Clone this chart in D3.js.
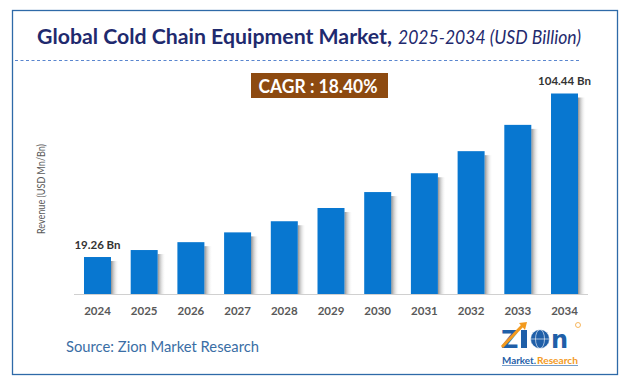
<!DOCTYPE html>
<html>
<head>
<meta charset="utf-8">
<script src="https://cdn.jsdelivr.net/npm/d3@7/dist/d3.min.js"></script>
<style>
  html, body { margin: 0; padding: 0; background: #fff; }
  svg { display: block; }
</style>
</head>
<body>
<svg id="chart" width="632" height="389"></svg>
<script>
const years = ["2024","2025","2026","2027","2028","2029","2030","2031","2032","2033","2034"];
const revenue = [19.26, 22.9, 27.0, 32.1, 37.9, 44.8, 53.1, 62.9, 74.4, 88.1, 104.44];
const valueLabels = ["19.26 Bn", "", "", "", "", "", "", "", "", "", "104.44 Bn"];
const titleMain = "Global Cold Chain Equipment Market,";
const titleSub = "2025-2034 (USD Billion)";
const cagrText = "CAGR : 18.40%";
const yAxisTitle = "Revenue (USD Mn/Bn)";
const sourceText = "Source: Zion Market Research";

const svg = d3.select("#chart");
const font = "Lato, 'Open Sans', sans-serif";

// frame
svg.append("rect").attr("x", 12.5).attr("y", 10.5).attr("width", 605).attr("height", 364)
  .attr("fill", "#fff").attr("stroke", "#2e6aa8").attr("stroke-width", 1.3);

// title
svg.append("text").attr("x", 37).attr("y", 44)
  .attr("font-family", font).attr("font-weight", 700).attr("font-size", 21)
  .attr("fill", "#1f2a6e").attr("textLength", 355).attr("lengthAdjust", "spacingAndGlyphs")
  .text(titleMain);
svg.append("text").attr("x", 398).attr("y", 44)
  .attr("font-family", font).attr("font-style", "italic").attr("font-size", 19)
  .attr("fill", "#1f2a6e").attr("textLength", 183).attr("lengthAdjust", "spacingAndGlyphs")
  .text(titleSub);
svg.append("line").attr("x1", 15).attr("x2", 580).attr("y1", 60.5).attr("y2", 60.5)
  .attr("stroke", "#5a86cf").attr("stroke-width", 1).attr("stroke-dasharray", "3,2.5");

// CAGR box
svg.append("rect").attr("x", 251).attr("y", 73).attr("width", 137).attr("height", 25).attr("fill", "#8d4a10");
svg.append("text").attr("x", 318).attr("y", 93)
  .attr("text-anchor", "middle").attr("font-family", font).attr("font-weight", 700)
  .attr("font-size", 18).attr("fill", "#fff").attr("textLength", 119).attr("lengthAdjust", "spacingAndGlyphs")
  .text(cagrText);

// scales
const x = d3.scaleBand().domain(years).range([74, 588]).paddingInner(0.422).paddingOuter(0.214);
const y = d3.scaleLinear().domain([0, 104.44]).range([294, 93.5]);

// shadow gradient
const defs = svg.append("defs");
const grad = defs.append("linearGradient").attr("id", "shadow").attr("x1", "0").attr("x2", "1").attr("y1", "0").attr("y2", "0");
grad.append("stop").attr("offset", "0%").attr("stop-color", "#8f8f8f");
grad.append("stop").attr("offset", "100%").attr("stop-color", "#ffffff").attr("stop-opacity", 0);

const g = svg.append("g");
g.selectAll("rect.shadow").data(years).join("rect").attr("class", "shadow")
  .attr("x", d => x(d) + x.bandwidth())
  .attr("y", (d, i) => y(revenue[i]) + 4)
  .attr("width", 8)
  .attr("height", (d, i) => 294 - y(revenue[i]) - 4)
  .attr("fill", "url(#shadow)");

g.selectAll("rect.bar").data(years).join("rect").attr("class", "bar")
  .attr("x", d => x(d))
  .attr("y", (d, i) => y(revenue[i]))
  .attr("width", x.bandwidth())
  .attr("height", (d, i) => 294 - y(revenue[i]))
  .attr("fill", "#0877d0");

g.selectAll("text.val").data(years).join("text").attr("class", "val")
  .attr("x", d => x(d) + x.bandwidth() / 2)
  .attr("y", (d, i) => y(revenue[i]) - 8.5)
  .attr("text-anchor", "middle").attr("font-family", font).attr("font-weight", 700)
  .attr("font-size", 11.5).attr("fill", "#333")
  .text((d, i) => valueLabels[i]);

// x axis
const xAxis = d3.axisBottom(x).tickSize(0).tickPadding(12);
const ax = svg.append("g").attr("transform", "translate(0,294.5)").call(xAxis);
ax.select(".domain").attr("stroke", "#d0d0d0").attr("d", "M74,0H588");
ax.selectAll("text").attr("font-family", font).attr("font-weight", 700)
  .attr("font-size", 11.5).attr("fill", "#595959");

// y label
svg.append("text").attr("transform", "translate(45,189) rotate(-90)")
  .attr("text-anchor", "middle").attr("font-family", font).attr("font-size", 10.5)
  .attr("fill", "#595959").attr("textLength", 90).attr("lengthAdjust", "spacingAndGlyphs")
  .text(yAxisTitle);

// source
svg.append("text").attr("x", 66).attr("y", 352)
  .attr("font-family", font).attr("font-size", 15).attr("fill", "#3a6ea5")
  .attr("textLength", 193).attr("lengthAdjust", "spacingAndGlyphs")
  .text(sourceText);

// logo
const logo = svg.append("g");
logo.append("text").attr("x", 501).attr("y", 348)
  .attr("font-family", "'DejaVu Sans', sans-serif").attr("font-weight", 700).attr("font-size", 24)
  .attr("fill", "#1f5fa8").text("Z");
logo.append("line").attr("x1", 502).attr("y1", 347).attr("x2", 523).attr("y2", 325)
  .attr("stroke", "#f39a1e").attr("stroke-width", 3);
logo.append("path").attr("d", "M519,323 L527,322 L525,330 Z").attr("fill", "#f39a1e");
logo.append("rect").attr("x", 521).attr("y", 330).attr("width", 6).attr("height", 18).attr("fill", "#1f5fa8");
logo.append("circle").attr("cx", 540).attr("cy", 339).attr("r", 9.5).attr("fill", "#1f5fa8");
logo.append("circle").attr("cx", 540).attr("cy", 339).attr("r", 9.5).attr("fill", "none").attr("stroke", "#fff").attr("stroke-width", 0.6);
logo.append("ellipse").attr("cx", 540).attr("cy", 339).attr("rx", 4.5).attr("ry", 9.5).attr("fill", "none").attr("stroke", "#fff").attr("stroke-width", 0.6);
logo.append("line").attr("x1", 530.5).attr("x2", 549.5).attr("y1", 339).attr("y2", 339).attr("stroke", "#fff").attr("stroke-width", 0.6);
logo.append("text").attr("x", 551).attr("y", 348)
  .attr("font-family", "'DejaVu Sans', sans-serif").attr("font-weight", 700).attr("font-size", 24)
  .attr("fill", "#1f5fa8").text("n");
logo.append("circle").attr("cx", 578).attr("cy", 325).attr("r", 2.5).attr("fill", "none").attr("stroke", "#f39a1e").attr("stroke-width", 0.7);
logo.append("text").attr("x", 502).attr("y", 363.5)
  .attr("font-family", font).attr("font-weight", 700).attr("font-size", 9.5)
  .attr("fill", "#1f5fa8").attr("textLength", 34).attr("lengthAdjust", "spacingAndGlyphs").text("Market.");
logo.append("text").attr("x", 537).attr("y", 363.5)
  .attr("font-family", font).attr("font-weight", 700).attr("font-size", 9.5)
  .attr("fill", "#f39a1e").attr("textLength", 41).attr("lengthAdjust", "spacingAndGlyphs").text("Research");
logo.append("line").attr("x1", 502).attr("x2", 578).attr("y1", 365.5).attr("y2", 365.5).attr("stroke", "#1f5fa8").attr("stroke-width", 0.6);
</script>
</body>
</html>
